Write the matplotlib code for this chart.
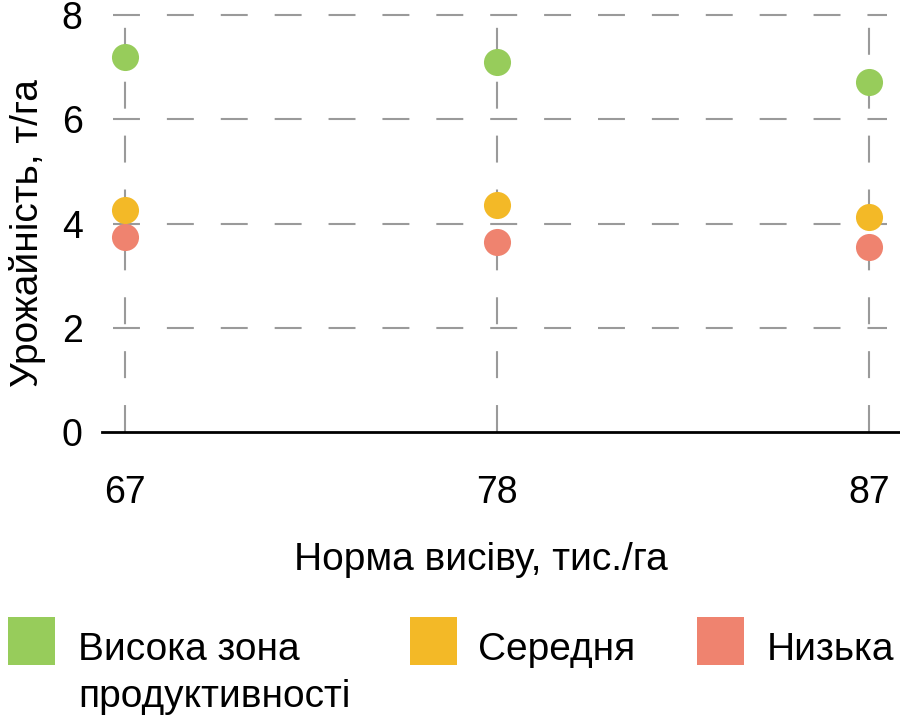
import matplotlib
matplotlib.use("Agg")
import matplotlib.pyplot as plt
from matplotlib.patches import Rectangle

plt.rcParams['font.family'] = ['Liberation Sans', 'DejaVu Sans']
plt.rcParams['lines.scale_dashes'] = False

# data
rates = ["67", "78", "87"]
high = [7.2, 7.1, 6.72]
mid = [4.26, 4.36, 4.13]
low = [3.74, 3.65, 3.55]
series_names = ["Висока зона\nпродуктивності", "Середня", "Низька"]
colors = ["#97CC5B", "#F3B927", "#EF836F"]
yticks = [0, 2, 4, 6, 8]

W, H = 900, 716
fig = plt.figure(figsize=(W / 100, H / 100), dpi=100)
ax = fig.add_axes([102 / W, 284 / H, 798 / W, 430 / H])

x = list(range(len(rates)))
ax.set_xlim(-0.062, 2.083)
ax.set_ylim(0, 8.25)

grid_kw = dict(color="#9a9a9a", linewidth=1.5, linestyle=(0, (19.4, 19.4)), zorder=1)
ax.hlines(yticks[1:], -0.032, 2.048, **grid_kw)
for xi in x:
    ax.plot([xi, xi], [0, 8.25], **grid_kw)

for vals, c in zip([high, mid, low], colors):
    ax.plot(x, vals, linestyle="none", marker="o", markersize=19.5,
            markerfacecolor=c, markeredgewidth=0, zorder=3)

for s in ["top", "right", "left"]:
    ax.spines[s].set_visible(False)
ax.spines["bottom"].set_linewidth(2)
ax.spines["bottom"].set_color("black")

ax.set_xticks(x)
ax.set_xticklabels(rates)
ax.set_yticks(yticks)
ax.tick_params(axis="both", length=0, labelsize=27)
ax.tick_params(axis="x", pad=31)
ax.tick_params(axis="y", pad=14)

ax.set_xlabel("Норма висіву, тис./га", fontsize=28)
ax.xaxis.set_label_coords(0.475, -0.255)
ax.set_ylabel("Урожайність, т/га", fontsize=28)
ax.yaxis.set_label_coords(-0.070, 0.463)

# legend, drawn by hand so the swatch lines up with the first text line
sw_x = [8, 410, 697]
tx_x = [78, 478, 767]
for sx, tx, c, name in zip(sw_x, tx_x, colors, series_names):
    fig.add_artist(Rectangle((sx / W, (H - 665) / H), 47 / W, 48 / H,
                             transform=fig.transFigure, facecolor=c, edgecolor="none"))
    for i, line in enumerate(name.split("\n")):
        fig.text(tx / W, (H - 660 - 47 * i) / H, line, fontsize=28,
                 ha="left", va="baseline")

fig.savefig("out.png", dpi=100)
